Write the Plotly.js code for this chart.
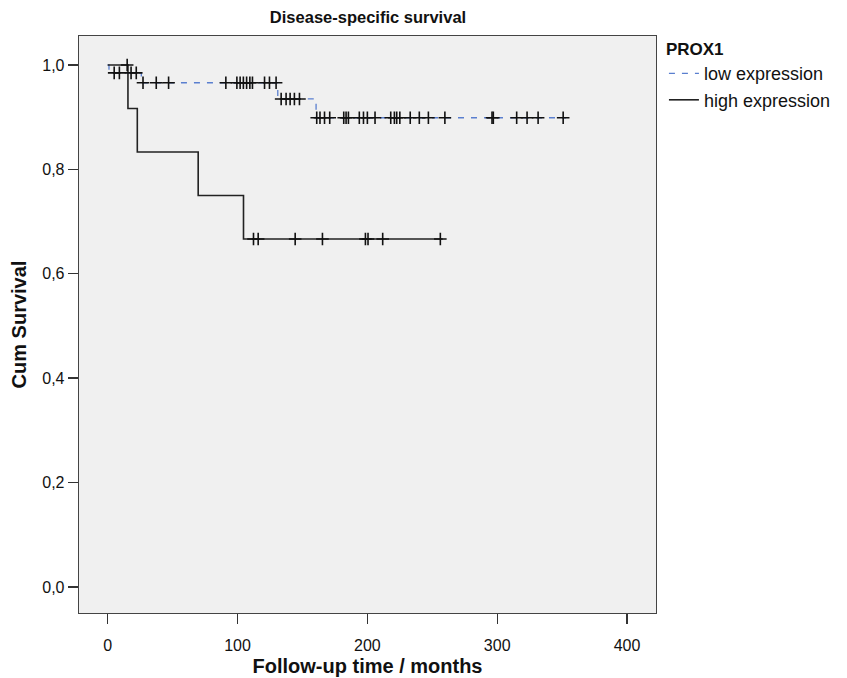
<!DOCTYPE html>
<html>
<head>
<meta charset="utf-8">
<script src="https://cdn.plot.ly/plotly-3.0.1.min.js"></script>
<style>html,body{margin:0;padding:0;background:#fff;}#chart{width:847px;height:678px;}</style>
</head>
<body>
<div id="chart"></div>
<script>
// Kaplan-Meier step data (time in months, cumulative survival)
var lowTimes = [0, 1, 25.9, 131, 160.5, 353];
var lowSurv  = [1.0, 0.985, 0.966, 0.935, 0.899, 0.899];
var highTimes = [0, 15.6, 22.8, 69.7, 104.6, 258];
var highSurv  = [1.0, 0.9167, 0.8333, 0.75, 0.6667, 0.6667];

// Censored observations (months)
var lowCensored = [5, 9, 18, 22, 27.2, 37.4, 46.9, 91, 99.5, 102, 104.5, 107, 109.5, 111.5,
  120.8, 124.6, 129.7, 133.6, 137.4, 140.5, 143.8, 147.7,
  161, 163.5, 167, 171, 181.8, 183.6, 185.4, 193.8, 197, 200, 205.9,
  218, 220.8, 222.6, 225, 233, 240, 247, 259.7, 296, 297, 315, 323, 331.5, 350.8];
var highCensored = [15, 112.3, 115.9, 144.4, 165.4, 198.5, 200.5, 211.8, 256.2];

var groupNames = ["low expression", "high expression"];
var yTickVals = [0, 0.2, 0.4, 0.6, 0.8, 1.0];
var xTickVals = [0, 100, 200, 300, 400];

function survAt(times, surv, t) {
  var s = surv[0];
  for (var i = 0; i < times.length; i++) { if (times[i] <= t) s = surv[i]; }
  return s;
}

var lowBlue = "#5a7fcf";
var censorMarker = {symbol: "cross-thin", size: 9, line: {color: "#111", width: 1.6}};
var traces = [
  {x: lowTimes, y: lowSurv, type: "scatter", mode: "lines", name: groupNames[0],
   line: {shape: "hv", color: lowBlue, width: 1.3, dash: "6px,7px"}},
  {x: highTimes, y: highSurv, type: "scatter", mode: "lines", name: groupNames[1],
   line: {shape: "hv", color: "#222", width: 1.6}},
  {x: lowCensored, y: lowCensored.map(function(t){return survAt(lowTimes, lowSurv, t);}),
   type: "scatter", mode: "markers", showlegend: false, hoverinfo: "skip", marker: censorMarker},
  {x: highCensored, y: highCensored.map(function(t){return survAt(highTimes, highSurv, t);}),
   type: "scatter", mode: "markers", showlegend: false, hoverinfo: "skip", marker: censorMarker}
];

var font = "Liberation Sans, Arial, sans-serif";
var layout = {
  width: 847, height: 678,
  margin: {l: 79, r: 190, t: 36, b: 65},
  paper_bgcolor: "#ffffff",
  plot_bgcolor: "#f0f0f0",
  separators: ", ",
  font: {family: font, size: 16, color: "#111"},
  title: {text: "<b>Disease-specific survival</b>", font: {family: font, size: 16.5, color: "#111"},
          x: 0.4345, xanchor: "center", y: 0.975, yanchor: "middle", yref: "container"},
  xaxis: {range: [-22.1, 422.3], tickvals: xTickVals, ticks: "outside", ticklen: 10, tickwidth: 1.3,
          tickcolor: "#333", showline: true, linecolor: "#444", linewidth: 1.3, mirror: true,
          showgrid: false, zeroline: false, tickfont: {size: 16, family: font}, ticklabelstandoff: 7,
          title: {text: "<b>Follow-up time / months</b>", font: {size: 20, family: font}, standoff: 6}},
  yaxis: {range: [-0.05, 1.0556], tickvals: yTickVals, tickformat: ".1f", ticks: "outside", ticklen: 10,
          tickwidth: 1.3, tickcolor: "#333", showline: true, linecolor: "#444", linewidth: 1.3, mirror: true,
          showgrid: false, zeroline: false, tickfont: {size: 16, family: font},
          title: {text: "<b>Cum Survival</b>", font: {size: 20, family: font}, standoff: 10}},
  legend: {x: 1.012, xanchor: "left", y: 1.005, yanchor: "top", bgcolor: "rgba(0,0,0,0)",
           font: {size: 18, family: font, color: "#111"}, tracegroupgap: 0,
           title: {text: "<b>PROX1</b>", font: {size: 17, family: font}}}
};

Plotly.newPlot("chart", traces, layout, {displayModeBar: false, staticPlot: true});
</script>
</body>
</html>
